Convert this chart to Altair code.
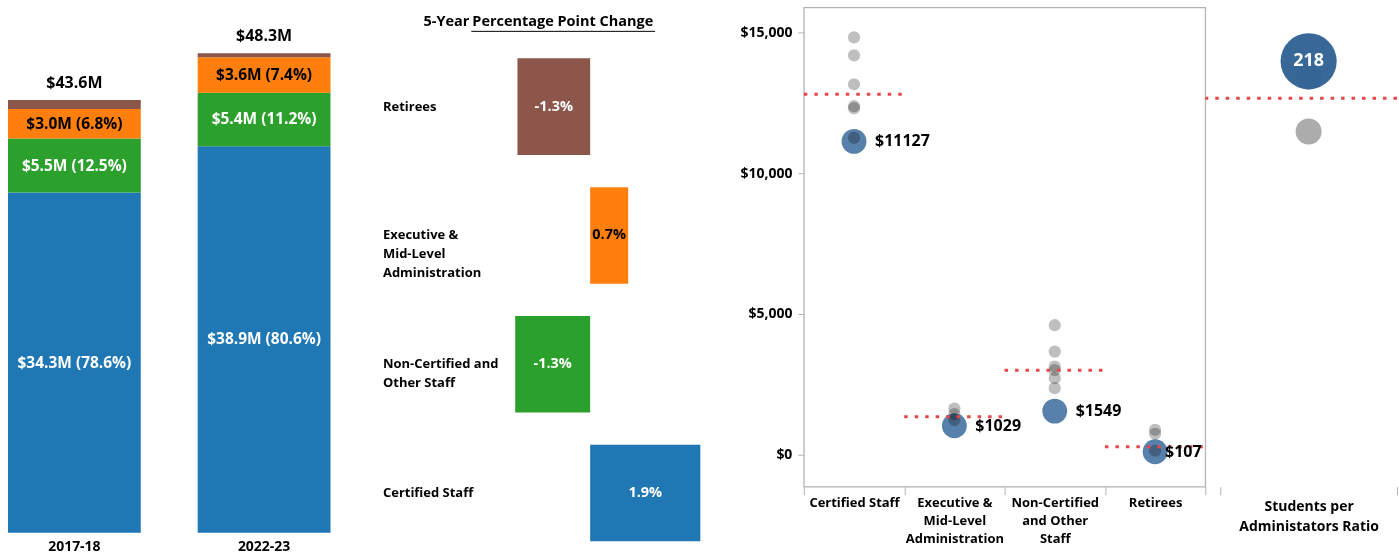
import json
import altair as alt
import pandas as pd

# ---------------- data ----------------
groups = ["Certified Staff", "Non-Certified and Other Staff",
          "Executive & Mid-Level Administration", "Retirees"]
group_colors = ["#1f77b4", "#2ca02c", "#ff7f0e", "#8c564b"]
years = ["2017-18", "2022-23"]
amounts_1718 = [34.27, 5.45, 2.96, 0.92]      # $M
shares_1718 = [78.6, 12.5, 6.8, 2.1]          # %
amounts_2223 = [38.93, 5.41, 3.57, 0.39]
shares_2223 = [80.6, 11.2, 7.4, 0.8]
totals = [43.6, 48.3]

change_groups = ["Retirees", "Executive & Mid-Level Administration",
                 "Non-Certified and Other Staff", "Certified Staff"]
change_values = [-1.30, 0.68, -1.34, 1.97]
change_labels = ["-1.3%", "0.7%", "-1.3%", "1.9%"]

dot_groups = ["Certified Staff", "Executive & Mid-Level Administration",
              "Non-Certified and Other Staff", "Retirees"]
peer_certified = [14823, 14184, 13156, 12376, 12305, 11250]
peer_exec = [1642, 1443, 1230]
peer_noncert = [4599, 3663, 3131, 3004, 2720, 2365]
peer_retirees = [886, 745, 142]
district_values = [11127, 1029, 1549, 107]
average_values = [12800, 1350, 3000, 280]

ratio_category = ["Students per Administators Ratio"]
ratio_district = [218]
ratio_peers = [182, 210]
ratio_average = [199]

# ---------------- tables ----------------
rows = []
for yr, amts, shs in [(years[0], amounts_1718, shares_1718), (years[1], amounts_2223, shares_2223)]:
    base = 0.0
    for i, (g, a, s) in enumerate(zip(groups, amts, shs)):
        rows.append({"year": yr, "group": g, "order": i, "base": base, "top": base + a,
                     "mid": base + a / 2, "label": f"${a:.1f}M ({s:.1f}%)"})
        base += a
stack_df = pd.DataFrame(rows)
tot_df = pd.DataFrame({"year": years, "total": totals,
                       "label": [f"${t:.1f}M" for t in totals]})

chg_df = pd.DataFrame({"group": change_groups, "change": change_values,
                       "label": change_labels})
chg_df["mid"] = chg_df["change"] / 2

peer_rows = []
for g, vals in zip(dot_groups, [peer_certified, peer_exec, peer_noncert, peer_retirees]):
    for v in vals:
        peer_rows.append({"group": g, "value": v})
peer_df = pd.DataFrame(peer_rows)
dist_df = pd.DataFrame({"group": dot_groups, "value": district_values,
                        "label": [f"${v}" for v in district_values]})
avg_df = pd.DataFrame({"group": dot_groups, "value": average_values})

ratio_d_df = pd.DataFrame({"cat": ratio_category, "value": ratio_district,
                           "label": [str(v) for v in ratio_district]})
ratio_p_df = pd.DataFrame({"cat": ratio_category * len(ratio_peers), "value": ratio_peers})
ratio_a_df = pd.DataFrame({"value": ratio_average})


def lines_expr(mapping):
    expr = "datum.value"
    for k, v in mapping.items():
        expr = f"datum.value == {json.dumps(k)} ? {json.dumps(v)} : ({expr})"
    return expr


BOLD = "bold"
GREY_LINE = "#b4b4b4"
RED = "#e8474a"
FONT = "Open Sans"

# ---------------- panel 1: stacked bars ----------------
x1 = alt.X("year:N", sort=years, title=None,
           scale=alt.Scale(paddingInner=0.3, paddingOuter=0.158, align=0.133),
           axis=alt.Axis(ticks=False, tickSize=0, domain=False, labelAngle=0, labelFontSize=14,
                         labelFontWeight=BOLD, labelColor="black", labelPadding=7))
y1_scale = alt.Scale(domain=[0, 52.93], nice=False)
bars1 = alt.Chart(stack_df).mark_bar().encode(
    x=x1,
    y=alt.Y("base:Q", scale=y1_scale, axis=None),
    y2="top:Q",
    color=alt.Color("group:N", scale=alt.Scale(domain=groups, range=group_colors), legend=None),
)
seg_text = alt.Chart(stack_df).transform_filter(alt.datum.group != "Retirees").mark_text(
    fontSize=15.5, fontWeight=BOLD).encode(
    x=alt.X("year:N", sort=years),
    y=alt.Y("mid:Q", scale=y1_scale),
    text="label:N",
    color=alt.condition(alt.datum.group == "Executive & Mid-Level Administration",
                        alt.value("black"), alt.value("white")),
)
tot_text = alt.Chart(tot_df).mark_text(fontSize=16, fontWeight=BOLD, dy=-17, color="black").encode(
    x=alt.X("year:N", sort=years),
    y=alt.Y("total:Q", scale=y1_scale),
    text="label:N",
)
p1 = alt.layer(bars1, seg_text, tot_text).properties(width=383, height=526)

# ---------------- panel 2: percentage point change ----------------
mid_lines = {"Executive & Mid-Level Administration": ["Executive &", "Mid-Level", "Administration"],
             "Non-Certified and Other Staff": ["Non-Certified and", "Other Staff"]}
y2 = alt.Y("group:N", sort=change_groups, title=None,
           scale=alt.Scale(paddingInner=0.25, paddingOuter=0.218, align=0.9067),
           axis=alt.Axis(ticks=False, tickSize=0, domain=False, labelAlign="left", labelPadding=0,
                         labelFontSize=13, labelFontWeight=BOLD, labelColor="black",
                         labelLineHeight=19, labelExpr=lines_expr(mid_lines)))
x2_scale = alt.Scale(domain=[-3.714, 3.821], nice=False, zero=False)
bars2 = alt.Chart(chg_df).mark_bar().encode(
    y=y2,
    x=alt.X("change:Q", scale=x2_scale, axis=None),
    x2=alt.datum(0),
    color=alt.Color("group:N", scale=alt.Scale(domain=groups, range=group_colors), legend=None),
)
chg_text = alt.Chart(chg_df).mark_text(fontSize=14.5, fontWeight=BOLD).encode(
    y=alt.Y("group:N", sort=change_groups),
    x=alt.X("mid:Q", scale=x2_scale),
    text="label:N",
    color=alt.condition(alt.datum.group == "Executive & Mid-Level Administration",
                        alt.value("black"), alt.value("white")),
)
one = alt.Data(values=[{}])
title_a = alt.Chart(one).mark_text(text="5-Year", fontSize=14.5, fontWeight=BOLD, align="right",
                                   color="black").encode(x=alt.value(87), y=alt.value(15))
title_b = alt.Chart(one).mark_text(text="Percentage Point Change", fontSize=14.5, fontWeight=BOLD,
                                   align="left", color="black").encode(x=alt.value(90), y=alt.value(15))
underline = alt.Chart(one).mark_rule(color="black", strokeWidth=1).encode(
    x=alt.value(89), x2=alt.value(273), y=alt.value(24))
p2 = alt.layer(bars2, chg_text, title_a, title_b, underline).properties(width=422, height=540)

# ---------------- panel 3: dot plot ----------------
dot_lines = {"Executive & Mid-Level Administration": ["Executive &", "Mid-Level", "Administration"],
             "Non-Certified and Other Staff": ["Non-Certified", "and Other", "Staff"]}
x3 = alt.X("group:N", sort=dot_groups, title=None,
           scale=alt.Scale(paddingInner=0, paddingOuter=0),
           axis=alt.Axis(tickBand="extent", tickSize=8, tickColor=GREY_LINE, domain=False,
                         labelAngle=0, labelFontSize=13, labelFontWeight=BOLD, labelColor="black",
                         labelPadding=2, labelLineHeight=18, labelExpr=lines_expr(dot_lines)))
y3_scale = alt.Scale(domain=[-1135, 15886], nice=False, zero=False)
y3 = alt.Y("value:Q", scale=y3_scale, title=None,
           axis=alt.Axis(values=[0, 5000, 10000, 15000], format="$,.0f", grid=False, domain=False,
                         tickSize=6, tickColor=GREY_LINE, labelFontSize=14, labelFontWeight=BOLD,
                         labelColor="black", labelPadding=6))
blue3 = alt.Chart(dist_df).mark_circle(size=620, color="#4e79a7", opacity=0.95).encode(x=x3, y=y3)
grey3 = alt.Chart(peer_df).mark_circle(size=150, color="#bfbfbf", opacity=1, blend="multiply").encode(
    x=alt.X("group:N", sort=dot_groups), y=alt.Y("value:Q", scale=y3_scale))
avg3 = alt.Chart(avg_df).mark_rule(color=RED, strokeWidth=3, strokeDash=[3.5, 7]).encode(
    x=alt.X("group:N", sort=dot_groups, bandPosition=0),
    x2=alt.X2("group", bandPosition=1),
    y=alt.Y("value:Q", scale=y3_scale))
lab3a = alt.Chart(dist_df).transform_filter(alt.datum.group != "Retirees").mark_text(
    align="left", dx=21, fontSize=16, fontWeight=BOLD, color="black").encode(
    x=alt.X("group:N", sort=dot_groups), y=alt.Y("value:Q", scale=y3_scale), text="label:N")
lab3b = alt.Chart(dist_df).transform_filter(alt.datum.group == "Retirees").mark_text(
    align="left", dx=10, fontSize=16, fontWeight=BOLD, color="black").encode(
    x=alt.X("group:N", sort=dot_groups), y=alt.Y("value:Q", scale=y3_scale), text="label:N")
p3 = alt.layer(blue3, grey3, avg3, lab3a, lab3b).properties(
    width=402, height=480, view=alt.ViewBackground(stroke=GREY_LINE, strokeWidth=1.3))

# ---------------- panel 4: ratio ----------------
ratio_lines = {"Students per Administators Ratio": ["Students per", "Administators Ratio"]}
x4 = alt.X("cat:N", title=None,
           scale=alt.Scale(paddingInner=0, paddingOuter=0.0424, align=1),
           axis=alt.Axis(tickBand="extent", tickSize=8, tickColor=GREY_LINE, domain=False,
                         labelAngle=0, labelFontSize=14, labelFontWeight=BOLD, labelColor="black",
                         labelPadding=5, labelLineHeight=20, labelExpr=lines_expr(ratio_lines)))
y4_scale = alt.Scale(domain=[0, 245.6], nice=False)
grey4 = alt.Chart(ratio_p_df).mark_circle(size=680, color="#acacac", opacity=1).encode(
    x=x4, y=alt.Y("value:Q", scale=y4_scale, axis=None))
blue4 = alt.Chart(ratio_d_df).mark_circle(size=3160, color="#2f6294", opacity=0.96).encode(
    x="cat:N", y=alt.Y("value:Q", scale=y4_scale))
avg4 = alt.Chart(ratio_a_df).mark_rule(color=RED, strokeWidth=3, strokeDash=[3.5, 7]).encode(
    y=alt.Y("value:Q", scale=y4_scale))
lab4 = alt.Chart(ratio_d_df).mark_text(fontSize=18, fontWeight=BOLD, color="white").encode(
    x="cat:N", y=alt.Y("value:Q", scale=y4_scale), text="label:N")
p4 = alt.layer(grey4, blue4, avg4, lab4).properties(width=192, height=480)

chart = alt.hconcat(p1, p2, p3, p4, spacing=0, bounds="flush").properties(
    padding={"left": 0, "top": 6, "right": 0, "bottom": 0}
).configure(font=FONT).configure_view(stroke=None)

chart.save("out.html", embed_options={"renderer": "svg", "actions": False})
